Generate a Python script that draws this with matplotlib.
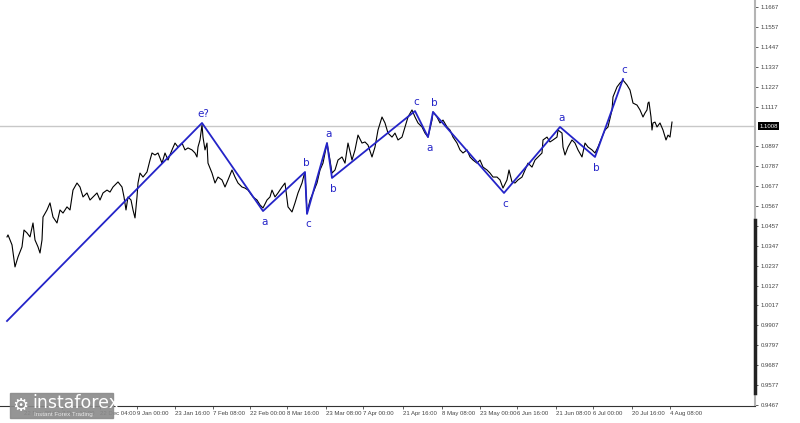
import matplotlib.pyplot as plt
import numpy as np

# H4 price path (bar column, close)
bars = [7, 8, 10, 12, 15, 18, 22, 24, 27, 30, 33, 35, 38, 40, 42, 43, 47, 50, 53, 57,
        60, 63, 67, 70, 73, 77, 80, 83, 87, 90, 93, 97, 100, 103, 107, 110, 113, 118, 122, 124,
        126, 128, 131, 133, 135, 137, 138, 140, 143, 147, 150, 152, 155, 158, 162, 165, 168, 172, 175, 178,
        182, 185, 188, 192, 195, 197, 198, 200, 202, 203, 205, 207, 208, 212, 215, 218, 222, 225, 228, 232,
        235, 238, 242, 245, 248, 253, 257, 260, 263, 267, 270, 272, 275, 278, 282, 285, 288, 292, 295, 298,
        302, 304, 305, 307, 310, 313, 317, 320, 323, 327, 330, 332, 335, 338, 342, 345, 348, 352, 355, 358,
        362, 365, 368, 372, 375, 378, 382, 385, 388, 392, 395, 398, 402, 405, 408, 412, 415, 418, 422, 425,
        428, 432, 433, 437, 440, 443, 447, 450, 453, 457, 460, 463, 467, 470, 473, 477, 480, 483, 487, 490,
        493, 497, 500, 503, 507, 509, 512, 515, 518, 522, 525, 528, 532, 535, 538, 542, 543, 547, 550, 553,
        557, 558, 562, 563, 565, 568, 572, 575, 578, 582, 585, 588, 592, 595, 598, 602, 605, 608, 612, 613,
        617, 620, 623, 627, 630, 633, 637, 640, 643, 645, 647, 648, 649, 651, 652, 653, 655, 657, 660, 663,
        666, 668, 670, 672]
close = [1.0396, 1.0407, 1.0379, 1.0352, 1.0230, 1.0285, 1.0341, 1.0434, 1.0418, 1.0396, 1.0473, 1.0379, 1.0341, 1.0307, 1.0379, 1.0506, 1.0545, 1.0584, 1.0506, 1.0473,
         1.0545, 1.0528, 1.0562, 1.0545, 1.0655, 1.0694, 1.0672, 1.0617, 1.0639, 1.0600, 1.0617, 1.0639, 1.0600, 1.0639, 1.0655, 1.0644, 1.0672, 1.0700, 1.0672, 1.0617,
         1.0545, 1.0617, 1.0600, 1.0545, 1.0501, 1.0617, 1.0694, 1.0749, 1.0727, 1.0755, 1.0821, 1.0860, 1.0849, 1.0860, 1.0804, 1.0860, 1.0821, 1.0877, 1.0915, 1.0893,
         1.0915, 1.0877, 1.0888, 1.0877, 1.0860, 1.0838, 1.0893, 1.0932, 1.1015, 1.0948, 1.0877, 1.0915, 1.0804, 1.0749, 1.0694, 1.0727, 1.0711, 1.0672, 1.0711, 1.0766,
         1.0727, 1.0694, 1.0672, 1.0666, 1.0655, 1.0617, 1.0600, 1.0573, 1.0556, 1.0600, 1.0617, 1.0655, 1.0617, 1.0639, 1.0672, 1.0694, 1.0562, 1.0534, 1.0584, 1.0639,
         1.0694, 1.0738, 1.0749, 1.0528, 1.0600, 1.0639, 1.0694, 1.0766, 1.0804, 1.0915, 1.0821, 1.0749, 1.0766, 1.0821, 1.0838, 1.0804, 1.0915, 1.0821, 1.0877, 1.0959,
         1.0915, 1.0921, 1.0904, 1.0838, 1.0893, 1.0987, 1.1059, 1.1026, 1.0970, 1.0948, 1.0970, 1.0932, 1.0948, 1.1004, 1.1059, 1.1098, 1.1059, 1.1026, 1.1004, 1.0970,
         1.0948, 1.1042, 1.1087, 1.1059, 1.1026, 1.1042, 1.1004, 1.0987, 1.0948, 1.0915, 1.0877, 1.0860, 1.0877, 1.0838, 1.0821, 1.0804, 1.0821, 1.0782, 1.0766, 1.0749,
         1.0727, 1.0727, 1.0711, 1.0666, 1.0711, 1.0766, 1.0700, 1.0694, 1.0711, 1.0727, 1.0766, 1.0804, 1.0782, 1.0821, 1.0838, 1.0860, 1.0932, 1.0948, 1.0921, 1.0932,
         1.0948, 1.0987, 1.0970, 1.0893, 1.0849, 1.0893, 1.0932, 1.0915, 1.0877, 1.0838, 1.0915, 1.0893, 1.0877, 1.0860, 1.0893, 1.0948, 1.0987, 1.1004, 1.1098, 1.1170,
         1.1225, 1.1247, 1.1263, 1.1236, 1.1208, 1.1136, 1.1125, 1.1098, 1.1059, 1.1081, 1.1098, 1.1136, 1.1142, 1.1059, 1.0987, 1.1026, 1.1031, 1.1004, 1.1026, 1.0987,
         1.0932, 1.0959, 1.0948, 1.1031]

# wave markup
wave_bars = [7, 202, 263, 305, 307, 327, 332, 415, 428, 433, 504, 560, 595, 623]
wave_price = [0.9931, 1.1026, 1.0539, 1.0755, 1.0523, 1.0915, 1.0722, 1.1092,
              1.0948, 1.1087, 1.0639, 1.1004, 1.0838, 1.1269]
wave_labels = ['', 'e?', 'a', 'b', 'c', 'a', 'b', 'c', 'a', 'b', 'c', 'a', 'b', 'c']

# axis labels
y_ticks = [1.1667, 1.1557, 1.1447, 1.1337, 1.1227, 1.1117, 1.0897, 1.0787, 1.0677,
           1.0567, 1.0457, 1.0347, 1.0237, 1.0127, 1.0017, 0.9907, 0.9797, 0.9687,
           0.9577, 0.9467]
last_price = 1.1008
x_tick_bars = [24, 62, 100, 137, 175, 213, 250, 287, 326, 363, 403, 442, 480, 517,
               556, 593, 632, 670]
x_tick_labels = ['22 Nov 20:00', '7 Dec 12:00', '22 Dec 04:00', '9 Jan 00:00',
                 '23 Jan 16:00', '7 Feb 08:00', '22 Feb 00:00', '8 Mar 16:00',
                 '23 Mar 08:00', '7 Apr 00:00', '21 Apr 16:00', '8 May 08:00',
                 '23 May 00:00', '6 Jun 16:00', '21 Jun 08:00', '6 Jul 00:00',
                 '20 Jul 16:00', '4 Aug 08:00']

small = ['Liberation Sans', 'DejaVu Sans']
blue = '#2424c8'

fig = plt.figure(figsize=(8, 4.23), dpi=100)
ax = fig.add_axes([0, 17 / 423, 755 / 800, 406 / 423])
ax.set_xlim(0, 755)
ax.set_ylim(0.9461, 1.1706)

ax.axhline(last_price, color='#c8c8c8', lw=1, zorder=1)
ax.plot(bars, close, color='black', lw=0.8, zorder=2)
ax.plot(wave_bars, wave_price, color=blue, lw=1.3, zorder=3)

for i, lab in enumerate(wave_labels):
    if not lab:
        continue
    up = wave_price[i] > wave_price[i - 1]
    ax.annotate(lab, (wave_bars[i], wave_price[i]), xytext=(1, 3 if up else -4),
                textcoords='offset points', ha='center',
                va='bottom' if up else 'top', color=blue, fontsize=7.5)

for s in ['top', 'left']:
    ax.spines[s].set_visible(False)
ax.spines['bottom'].set_color('#333333')
ax.spines['bottom'].set_linewidth(0.8)
ax.spines['right'].set_color('#b4b4b4')
ax.spines['right'].set_linewidth(1.5)
ax.axvline(755, ymin=0.032, ymax=0.458, color='#222222', lw=2.5, clip_on=False, zorder=5)

ax.yaxis.tick_right()
ax.set_yticks(y_ticks)
ax.set_yticklabels([f'{v:.4f}' for v in y_ticks], family=small, fontsize=4.3, color='#444444')
ax.tick_params(axis='y', length=2, width=0.6, pad=2, colors='#444444')

ax.set_xticks(x_tick_bars)
ax.set_xticklabels(x_tick_labels, family=small, fontsize=4.3, color='#444444', ha='left')
ax.tick_params(axis='x', length=2, width=0.6, pad=1.5, colors='#444444')

ax.annotate(f'{last_price:.4f}', xy=(1, last_price), xycoords=('axes fraction', 'data'),
            xytext=(3, 0), textcoords='offset points', va='center', ha='left',
            family=small, fontsize=4.3, color='white',
            bbox=dict(boxstyle='square,pad=0.25', fc='black', ec='none'))

# watermark logo
fig.patches.append(plt.Rectangle((10 / 800, 5 / 423), 103 / 800, 25 / 423,
                                 transform=fig.transFigure, color='#8a8a8a',
                                 alpha=0.9, zorder=10))
fig.text(20 / 800, 17 / 423, '\u2699', color='white', fontsize=13, va='center',
         ha='center', zorder=11)
fig.text(32 / 800, 20 / 423, 'instaforex', color='white', fontsize=12.5,
         va='center', ha='left', zorder=11)
fig.text(34 / 800, 9 / 423, 'Instant Forex Trading', color='#e6e6e6', fontsize=4.5,
         family=small, va='center', ha='left', zorder=11)

fig.savefig('out.png', dpi=100)
